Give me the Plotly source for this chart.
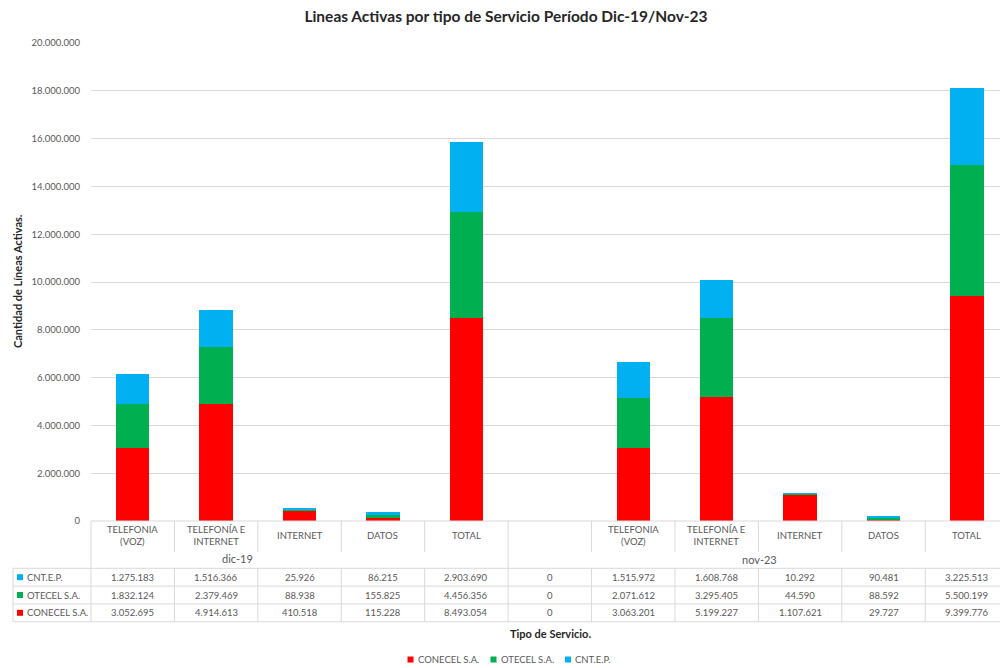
import plotly.graph_objects as go

# ---------------- data ----------------
groups = ["dic-19", "nov-23"]
services = ["TELEFONIA<br>(VOZ)", "TELEFONÍA E<br>INTERNET", "INTERNET", "DATOS", "TOTAL"]
categories = services + [""] + services          # 11 slots (slot 5 = empty column)
conecel = [3052695, 4914613, 410518, 115228, 8493054, 0, 3063201, 5199227, 1107621, 29727, 9399776]
otecel = [1832124, 2379469, 88938, 155825, 4456356, 0, 2071612, 3295405, 44590, 88592, 5500199]
cnt = [1275183, 1516366, 25926, 86215, 2903690, 0, 1515972, 1608768, 10292, 90481, 3225513]
series_names = ["CONECEL S.A.", "OTECEL S.A.", "CNT.E.P."]
colors = ["#FF0000", "#00B050", "#00B0F0"]
y_ticks = list(range(0, 20000001, 2000000))

FONT = "Lato"
GRAY = "#595959"
DARK = "#262626"
LINE = "#D9D9D9"

# ---------------- layout geometry (pixels) ----------------
W, H = 1000, 668
L, R, T, B = 91, 1000, 43, 521
XMIN, XMAX = -0.5, 10.396

def xp(px):
    return (px - L) / (R - L)

def yp(py):
    return (B - py) / (B - T)

def fmt(v):
    return f"{v:,}".replace(",", ".")

x = list(range(len(categories)))

fig = go.Figure()
for name, vals, col in zip(series_names, [conecel, otecel, cnt], colors):
    fig.add_trace(go.Bar(x=x, y=vals, name=name, marker_color=col,
                         marker_line_width=0, width=0.4, showlegend=False))

shapes = []
ann = []

# table horizontal lines
row_tops = [568.3, 586.1, 603.9, 621.7]
for yy in row_tops:
    shapes.append(dict(type="line", xref="paper", yref="paper",
                       x0=xp(13), x1=xp(1010), y0=yp(yy), y1=yp(yy),
                       line=dict(color=LINE, width=1)))
# axis line
shapes.append(dict(type="line", xref="paper", yref="paper",
                   x0=0, x1=xp(1010), y0=0, y1=0, line=dict(color=LINE, width=1)))
# left borders
shapes.append(dict(type="line", xref="paper", yref="paper",
                   x0=xp(13), x1=xp(13), y0=yp(568.3), y1=yp(621.7),
                   line=dict(color=LINE, width=1)))
shapes.append(dict(type="line", xref="paper", yref="paper",
                   x0=0, x1=0, y0=0, y1=yp(621.7),
                   line=dict(color=LINE, width=1)))
# slot boundaries
for k in range(1, len(categories)):
    b = k - 0.5
    if k == 5:
        shapes.append(dict(type="line", xref="x", yref="paper", x0=b, x1=b,
                           y0=0, y1=yp(621.7), line=dict(color=LINE, width=1)))
    else:
        shapes.append(dict(type="line", xref="x", yref="paper", x0=b, x1=b,
                           y0=0, y1=yp(552), line=dict(color=LINE, width=1)))
        shapes.append(dict(type="line", xref="x", yref="paper", x0=b, x1=b,
                           y0=yp(568.3), y1=yp(621.7), line=dict(color=LINE, width=1)))

# header category labels
for k, c in enumerate(categories):
    if c:
        ann.append(dict(x=k, xref="x", y=yp(535.5), yref="paper", text=c,
                        showarrow=False, xanchor="center", yanchor="middle",
                        font=dict(family=FONT, size=9.5, color=GRAY)))
# group labels
ann.append(dict(x=xp(237), xref="paper", y=yp(558), yref="paper", text=groups[0],
                showarrow=False, xanchor="center", yanchor="middle",
                font=dict(family=FONT, size=11, color=GRAY)))
ann.append(dict(x=xp(759), xref="paper", y=yp(559), yref="paper", text=groups[1],
                showarrow=False, xanchor="center", yanchor="middle",
                font=dict(family=FONT, size=11, color=GRAY)))

# data rows (top: CNT, OTECEL, CONECEL)
rows = [(series_names[2], cnt, colors[2]), (series_names[1], otecel, colors[1]),
        (series_names[0], conecel, colors[0])]
row_centers = [577.2, 595.0, 612.8]
for (lab, vals, col), yc in zip(rows, row_centers):
    shapes.append(dict(type="rect", xref="paper", yref="paper",
                       x0=xp(17), x1=xp(23), y0=yp(yc + 3), y1=yp(yc - 3),
                       fillcolor=col, line=dict(width=0)))
    ann.append(dict(x=xp(25), xref="paper", y=yp(yc), yref="paper", text=lab,
                    showarrow=False, xanchor="left", yanchor="middle",
                    font=dict(family=FONT, size=9.5, color=GRAY)))
    for k, v in enumerate(vals):
        ann.append(dict(x=k, xref="x", y=yp(yc), yref="paper", text=fmt(v),
                        showarrow=False, xanchor="center", yanchor="middle",
                        font=dict(family=FONT, size=9.5, color=GRAY)))

# manual legend at bottom
legend_x = [407.5, 490.5, 565]
LEG_Y = 659.5
for name, col, lx in zip(series_names, colors, legend_x):
    shapes.append(dict(type="rect", xref="paper", yref="paper",
                       x0=xp(lx), x1=xp(lx + 6), y0=yp(LEG_Y + 3), y1=yp(LEG_Y - 3),
                       fillcolor=col, line=dict(width=0)))
    ann.append(dict(x=xp(lx + 8), xref="paper", y=yp(LEG_Y), yref="paper", text=name,
                    showarrow=False, xanchor="left", yanchor="middle",
                    font=dict(family=FONT, size=9.5, color=GRAY)))

# axis titles
ann.append(dict(x=xp(17), xref="paper", y=yp(281), yref="paper",
                text="<b>Cantidad de Líneas Activas.</b>", textangle=-90,
                showarrow=False, xanchor="center", yanchor="middle",
                font=dict(family=FONT, size=11, color=DARK)))
ann.append(dict(x=xp(550), xref="paper", y=yp(633), yref="paper",
                text="<b>Tipo de Servicio.</b>",
                showarrow=False, xanchor="center", yanchor="middle",
                font=dict(family=FONT, size=11, color=DARK)))

fig.update_layout(
    width=W, height=H,
    margin=dict(l=L, r=W - R, t=T, b=H - B, pad=0),
    paper_bgcolor="white", plot_bgcolor="white",
    barmode="stack", bargap=0.6,
    separators=",.",
    showlegend=False,
    title=dict(text="<b>Lineas Activas por tipo de Servicio Período Dic-19/Nov-23</b>",
               x=xp(506), xref="paper", xanchor="center", y=1 - 17 / H, yanchor="middle",
               font=dict(family=FONT, size=15.5, color=DARK)),
    xaxis=dict(range=[XMIN, XMAX], showticklabels=False, showgrid=False,
               zeroline=False, showline=False, ticks=""),
    yaxis=dict(range=[0, 20000000], tickvals=y_ticks,
               ticktext=[fmt(v) for v in y_ticks],
               showgrid=True, gridcolor=LINE, gridwidth=1, zeroline=False,
               showline=False, ticks="", ticklabelstandoff=10,
               tickfont=dict(family=FONT, size=9.5, color=GRAY)),
    shapes=shapes, annotations=ann,
)

fig.write_html("out.html", config={"displayModeBar": False},
               post_script="document.body.style.margin='0';document.body.style.overflow='hidden';")
